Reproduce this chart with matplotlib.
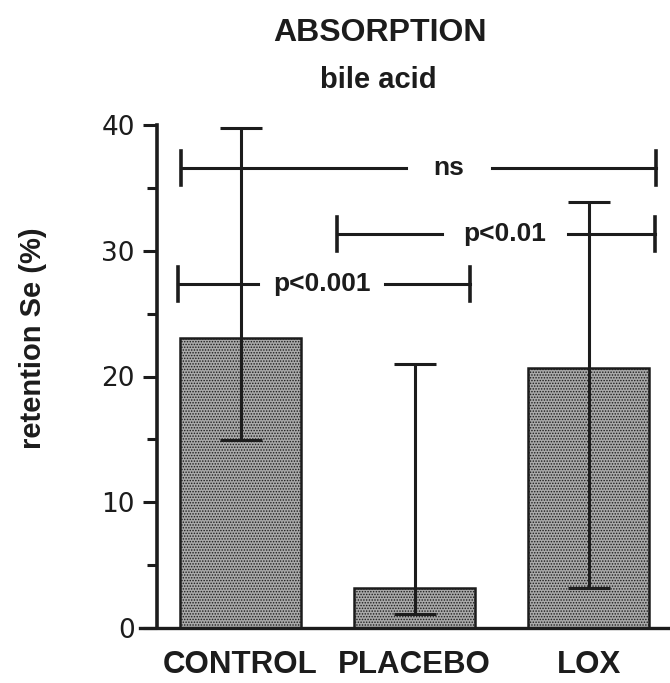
import matplotlib
matplotlib.use("Agg")
import matplotlib.pyplot as plt
import numpy as np

# ---- data ----
categories = ["CONTROL", "PLACEBO", "LOX"]
means = [23.1, 3.2, 20.7]
err_upper = [39.8, 21.0, 33.9]   # upper end of error bar
err_lower = [14.95, 1.1, 3.2]    # lower end of error bar
yticks = [0, 10, 20, 30, 40]
yticks_minor = [5, 15, 25, 35]

# significance brackets: (x start, x end, y, label, gap start, gap end)
brackets = [
    (-0.342, 2.388, 36.58, "ns", 0.951, 1.445),
    (0.555, 2.382, 31.33, "p<0.01", 1.158, 1.882),
    (-0.359, 1.319, 27.36, "p<0.001", 0.101, 0.830),
]

ink = "#1c1c1c"
plt.rcParams['font.family'] = ['Liberation Sans', 'DejaVu Sans']
plt.rcParams['hatch.color'] = '#2a2a2a'
plt.rcParams['hatch.linewidth'] = 0.7

fig = plt.figure(figsize=(6.7, 6.83), dpi=100)
ax = fig.add_axes([140 / 670, 55 / 683, 530 / 670, 503 / 683])

x = np.arange(len(categories))
m = np.array(means)
lo = np.array(err_lower)
hi = np.array(err_upper)

ax.bar(x, m, width=0.70, color="#a9a9a9", edgecolor=ink, linewidth=1.8,
       hatch="......", zorder=2)
ax.errorbar(x, m, yerr=[m - lo, hi - m], fmt="none", ecolor=ink,
            elinewidth=2.2, capsize=15, capthick=2.2, zorder=3)

for x0, x1, y, lab, g0, g1 in brackets:
    ax.plot([x0, g0], [y, y], color=ink, lw=2.2, clip_on=False, zorder=4)
    ax.plot([g1, x1], [y, y], color=ink, lw=2.2, clip_on=False, zorder=4)
    for xc in (x0, x1):
        ax.plot([xc, xc], [y - 1.35, y + 1.35], color=ink, lw=2.6,
                clip_on=False, zorder=4)
    ax.text((g0 + g1) / 2, y, lab, ha="center", va="center", fontsize=19,
            fontweight="bold", color=ink, zorder=5)

ax.set_xlim(-0.578, 2.468)
ax.set_ylim(0, 40)

for s in ("top", "right"):
    ax.spines[s].set_visible(False)
ax.spines["left"].set_position(("data", -0.480))
ax.spines["left"].set_linewidth(2.6)
ax.spines["bottom"].set_linewidth(2.4)
ax.spines["left"].set_color(ink)
ax.spines["bottom"].set_color(ink)

ax.set_yticks(yticks)
ax.set_yticks(yticks_minor, minor=True)
ax.set_yticklabels([str(t) for t in yticks], fontsize=19,
                   family="DejaVu Sans", color=ink)
ax.tick_params(axis="y", which="major", length=10, width=2.2, color=ink, pad=6)
ax.tick_params(axis="y", which="minor", length=7, width=2.2, color=ink)

ax.set_xticks(x)
ax.set_xticklabels(categories, fontsize=22.5, fontweight="bold", color=ink)
ax.tick_params(axis="x", length=0, pad=16)

fig.text(380 / 670, 1 - 33 / 683, "ABSORPTION", ha="center", va="center",
         fontsize=23, fontweight="bold", color=ink)
fig.text(378 / 670, 1 - 80 / 683, "bile acid", ha="center", va="center",
         fontsize=21, fontweight="bold", color=ink)
fig.text(33 / 670, 1 - 338 / 683, "retention Se (%)", ha="center",
         va="center", rotation=90, fontsize=21, fontweight="bold", color=ink)

fig.savefig("out.png", dpi=100, facecolor="white")
